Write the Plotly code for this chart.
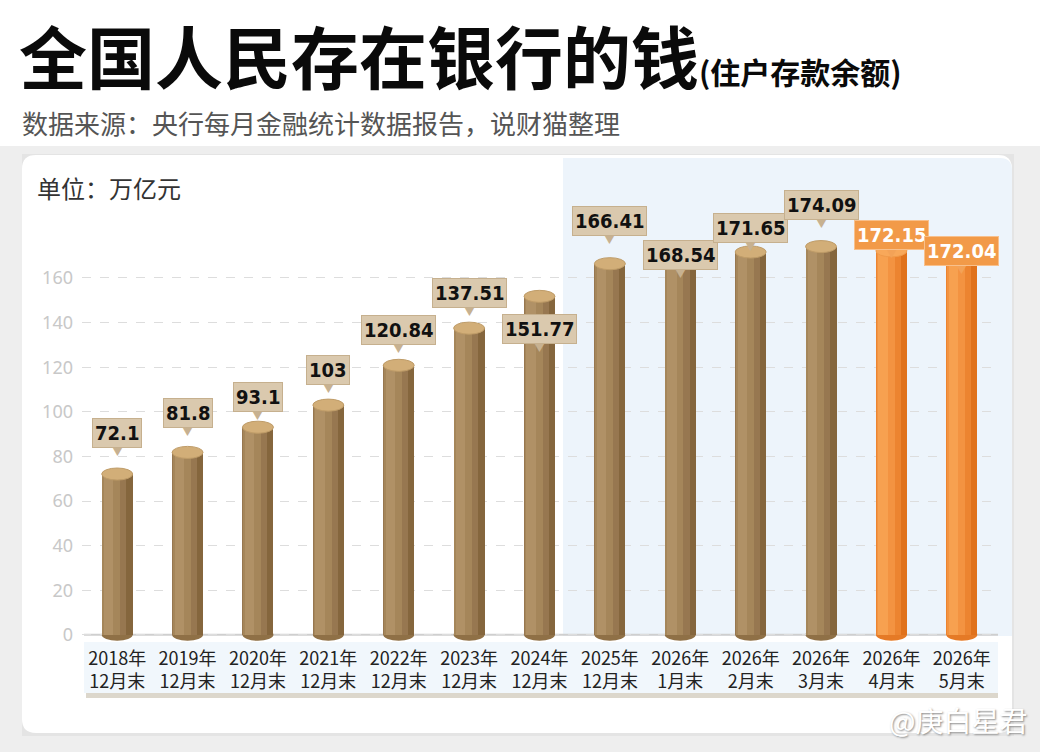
import plotly.graph_objects as go

# ---------------- data ----------------
years = ["2018年", "2019年", "2020年", "2021年", "2022年", "2023年", "2024年",
         "2025年", "2026年", "2026年", "2026年", "2026年", "2026年"]
periods = ["12月末", "12月末", "12月末", "12月末", "12月末", "12月末", "12月末",
           "12月末", "1月末", "2月末", "3月末", "4月末", "5月末"]
values = [72.1, 81.8, 93.1, 103, 120.84, 137.51, 151.77,
          166.41, 168.54, 171.65, 174.09, 172.15, 172.04]
highlight = [False] * 11 + [True] * 2          # orange bars
y_ticks = [0, 20, 40, 60, 80, 100, 120, 140, 160]

title_main = "全国人民存在银行的钱"
title_sub = "(住户存款余额)"
source_text = "数据来源：央行每月金融统计数据报告，说财猫整理"
unit_text = "单位：万亿元"
watermark = "@庚白星君"

# ---------------- styles / layout helpers ----------------
W, H = 1040, 752
def X(px): return px / W
def Y(py): return 1 - py / H

label_shift = [41, 39, 30, 35, 35, 35, -33, 43, 4, 24, 42, 16, 0]   # px above bar top
cats = [f"{a}<br>{b}" for a, b in zip(years, periods)]
n = len(cats)
BW = 0.44

brown_layers = ["#85663d", "#977750", "#a5865a", "#b09166"]
orange_layers = ["#e0721c", "#ec8430", "#f39341", "#f7a150"]
layer_geo = [(-BW / 2, BW), (-BW / 2, BW * 0.80), (-BW / 2 + 0.01, BW * 0.58), (-BW / 2 + 0.035, BW * 0.30)]

fig = go.Figure()
for k, (off, wd) in enumerate(layer_geo):
    fig.add_trace(go.Bar(
        x=list(range(n)), y=values, base=0,
        offset=off, width=wd,
        marker=dict(color=[orange_layers[k] if h else brown_layers[k] for h in highlight], line_width=0),
        hoverinfo="skip", showlegend=False,
    ))

shapes = []
shapes.append(dict(type="rect", xref="paper", yref="paper", x0=0, x1=1, y0=0, y1=Y(146),
                   fillcolor="#eeeeee", line_width=0, layer="below"))
shapes.append(dict(type="rect", xref="paper", yref="paper", x0=X(22), x1=X(1014), y0=Y(736), y1=Y(154),
                   fillcolor="#e4e4e4", line_width=0, layer="below"))
r = 14
cx0, cx1, cy0, cy1 = 22, 1012, 155, 733
card = (f"M {cx0+r},{cy0} L {cx1-r},{cy0} Q {cx1},{cy0} {cx1},{cy0+r} L {cx1},{cy1-r} "
        f"Q {cx1},{cy1} {cx1-r},{cy1} L {cx0+r},{cy1} Q {cx0},{cy1} {cx0},{cy1-r} "
        f"L {cx0},{cy0+r} Q {cx0},{cy0} {cx0+r},{cy0} Z")
def pxpath(p):
    out = []
    for tok in p.split():
        if "," in tok:
            a, b = tok.split(",")
            out.append(f"{X(float(a)):.5f},{Y(float(b)):.5f}")
        else:
            out.append(tok)
    return " ".join(out)
shapes.append(dict(type="path", xref="paper", yref="paper", path=pxpath(card),
                   fillcolor="white", line_width=0, layer="below"))
dom0, dom1 = X(82), X(997)
blue_path = (f"M {563},{158} L {1000},{158} Q {1012},{158} {1012},{170} L {1012},{636} L {563},{636} Z")
shapes.append(dict(type="path", xref="paper", yref="paper", path=pxpath(blue_path),
                   fillcolor="#edf4fb", line_width=0, layer="below"))
shapes.append(dict(type="rect", xref="paper", yref="paper", x0=X(86), x1=X(998), y0=Y(698), y1=Y(650),
                   fillcolor="#dcd7cc", line_width=0, layer="below"))
shapes.append(dict(type="rect", xref="paper", yref="paper", x0=X(84), x1=X(998), y0=Y(693), y1=Y(642),
                   fillcolor="#f1f7fc", line_width=0, layer="below"))
shapes.append(dict(type="line", xref="paper", yref="y", x0=X(84), x1=X(998), y0=0, y1=0,
                   line=dict(color="#cfcfcf", width=2), layer="below"))
EH = 2.7
for i, (v, h) in enumerate(zip(values, highlight)):
    shapes.append(dict(type="circle", xref="x", yref="y", x0=i - BW / 2, x1=i + BW / 2, y0=-EH, y1=EH,
                       fillcolor="#e57a26" if h else "#8f7046", line_width=0, layer="below"))
    shapes.append(dict(type="circle", xref="x", yref="y", x0=i - BW / 2, x1=i + BW / 2, y0=v - EH, y1=v + EH,
                       fillcolor="#f8a85a" if h else "#d2ae78",
                       line=dict(color="#f09a4a" if h else "#bf9c68", width=1), layer="above"))

annotations = []
annotations.append(dict(xref="paper", yref="paper", x=X(17), y=Y(55), xanchor="left", yanchor="middle",
                        showarrow=False,
                        text=f"<b>{title_main}</b><b><span style='font-size:30px'>{title_sub}</span></b>",
                        font=dict(family="Noto Sans CJK SC", size=68, color="#0a0a0a", weight=900)))
annotations.append(dict(xref="paper", yref="paper", x=X(20), y=Y(122), xanchor="left", yanchor="middle",
                        showarrow=False, text=source_text,
                        font=dict(family="Noto Sans CJK SC", size=26, color="#555555")))
annotations.append(dict(xref="paper", yref="paper", x=X(35), y=Y(187), xanchor="left", yanchor="middle",
                        showarrow=False, text=unit_text,
                        font=dict(family="Noto Sans CJK SC", size=24, color="#333333")))
annotations.append(dict(xref="paper", yref="paper", x=X(1030), y=Y(720), xanchor="right", yanchor="middle",
                        showarrow=False, text=watermark,
                        font=dict(family="Noto Sans CJK SC", size=28, color="#ffffff",
                                  shadow="1px 1px 2px #8a8a8a")))
for i, (v, h, s) in enumerate(zip(values, highlight, label_shift)):
    annotations.append(dict(xref="x", yref="y", x=i, y=v, yshift=s - 18, showarrow=False,
                            text="▼", font=dict(size=11, color="#f3a257" if h else "#c7b190")))
    annotations.append(dict(xref="x", yref="y", x=i, y=v, yshift=s, yanchor="middle", showarrow=False,
                            text=f"{v:g}",
                            font=dict(family="DejaVu Sans Condensed, sans-serif",
                                      size=20, weight="bold", color="#ffffff" if h else "#111111"),
                            bgcolor="#f29a48" if h else "#dac9ae",
                            bordercolor="#f8c08c" if h else "#c6b08e", borderwidth=1, borderpad=2))

fig.update_layout(
    width=W, height=H, margin=dict(l=0, r=0, t=0, b=0),
    paper_bgcolor="white", plot_bgcolor="rgba(0,0,0,0)",
    barmode="overlay", bargap=0,
    shapes=shapes, annotations=annotations,
    xaxis=dict(domain=[dom0, dom1], range=[-0.5, n - 0.5], tickmode="array",
               tickvals=list(range(n)), ticktext=cats, showgrid=False, zeroline=False,
               showline=False, ticks="", tickfont=dict(family="Noto Sans CJK SC", size=18, color="#222222")),
    yaxis=dict(domain=[Y(646), Y(158)], range=[-5, 213.8], tickvals=y_ticks,
               showgrid=True, gridcolor="#dddddd", griddash="dash", gridwidth=1,
               zeroline=False, showline=False, ticks="", ticklabelstandoff=8,
               tickfont=dict(family="Noto Sans", size=18, color="#c8c8c8")),
    font=dict(family="Noto Sans CJK SC"),
)
fig.write_html("out.html")
